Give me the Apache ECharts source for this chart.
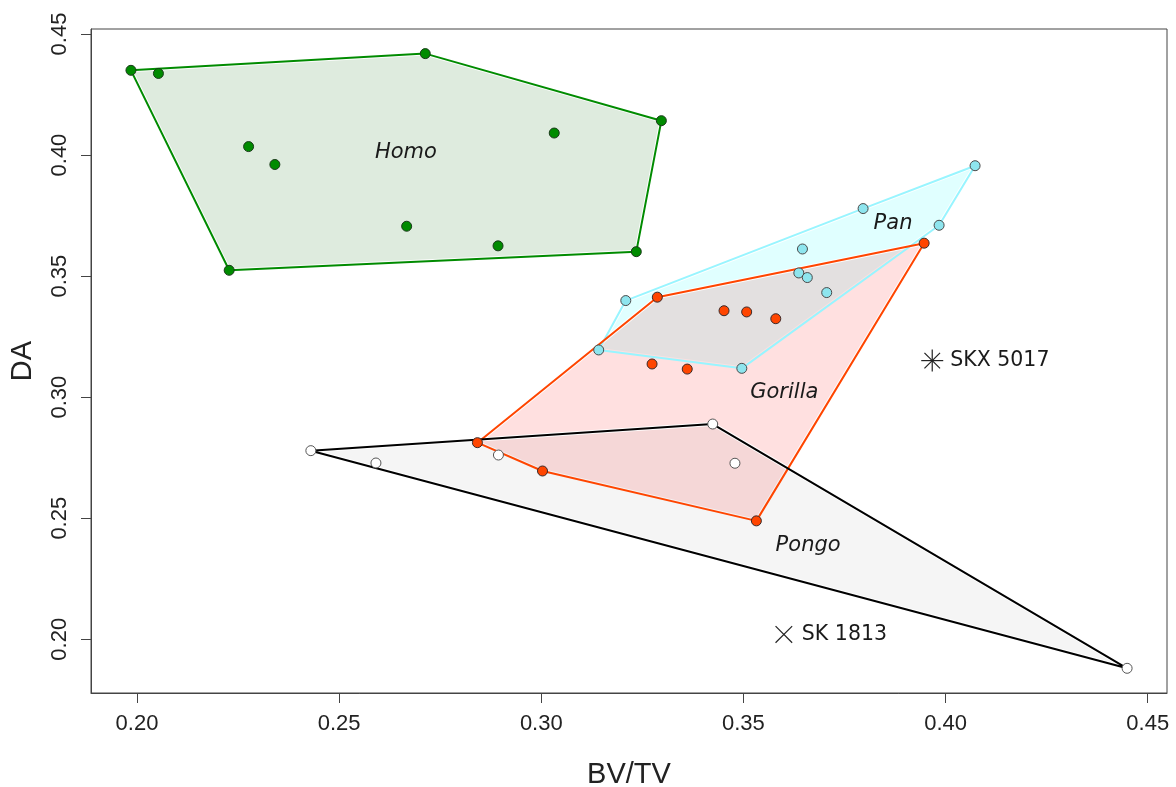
<!DOCTYPE html>
<html><head><meta charset="utf-8">
<script src="https://cdn.jsdelivr.net/npm/echarts@6/dist/echarts.min.js"></script>
<style>html,body{margin:0;padding:0;background:#fff}#c{width:1176px;height:787px}</style>
</head><body><div id="c"></div>
<script>
// ---- data ----
const xTicks = [0.20, 0.25, 0.30, 0.35, 0.40, 0.45];
const yTicks = [0.20, 0.25, 0.30, 0.35, 0.40, 0.45];
const homo = [[0.1985,0.4350],[0.2053,0.4337],[0.2276,0.4035],[0.2341,0.3961],[0.2228,0.3524],[0.2713,0.4419],[0.3297,0.4142],[0.3032,0.4091],[0.2667,0.3706],[0.2893,0.3625],[0.3235,0.3601]];
const pan = [[0.4073,0.3956],[0.3796,0.3779],[0.3984,0.3710],[0.3646,0.3612],[0.3637,0.3513],[0.3658,0.3494],[0.3706,0.3432],[0.3209,0.3399],[0.3142,0.3195],[0.3496,0.3119]];
const gorilla = [[0.3947,0.3636],[0.3287,0.3413],[0.3452,0.3357],[0.3508,0.3352],[0.3580,0.3324],[0.3274,0.3137],[0.3361,0.3116],[0.2842,0.2812],[0.3003,0.2695],[0.3532,0.2489]];
const pongo = [[0.2430,0.2779],[0.2591,0.2728],[0.2894,0.2761],[0.3424,0.2889],[0.3479,0.2727],[0.4449,0.1880]];
const speciesNames = ['Homo', 'Pan', 'Gorilla', 'Pongo'];
const speciesLabelPos = [[0.2665,0.4009],[0.3870,0.3719],[0.3601,0.3017],[0.3660,0.2389]];
const specimens = [[0.3967,0.3151],[0.3600,0.2020]];
const specimenNames = ['SKX 5017', 'SK 1813'];
const specimenSymbols = ['asterisk', 'cross'];

// ---- helpers ----
function hull(pts) {
  const p = pts.slice().sort((a, b) => a[0] - b[0] || a[1] - b[1]);
  const cross = (o, a, b) => (a[0]-o[0])*(b[1]-o[1]) - (a[1]-o[1])*(b[0]-o[0]);
  const lower = [];
  for (const q of p) { while (lower.length >= 2 && cross(lower[lower.length-2], lower[lower.length-1], q) <= 0) lower.pop(); lower.push(q); }
  const upper = [];
  for (let i = p.length - 1; i >= 0; i--) { const q = p[i]; while (upper.length >= 2 && cross(upper[upper.length-2], upper[upper.length-1], q) <= 0) upper.pop(); upper.push(q); }
  upper.pop(); lower.pop();
  return lower.concat(upper);
}
function fillSeries(pts, fill, z) {
  const h = hull(pts);
  return {
    type: 'custom', coordinateSystem: 'cartesian2d', silent: true, z: z,
    data: [h[0]],
    renderItem: (params, api) => ({
      type: 'polygon', shape: { points: h.map(p => api.coord(p)) },
      style: { fill: fill, stroke: 'rgba(255,255,255,0.9)', lineWidth: 4, lineJoin: 'round' }
    })
  };
}
function outlineSeries(pts, stroke, z) {
  const h = hull(pts);
  return {
    type: 'custom', coordinateSystem: 'cartesian2d', silent: true, z: z,
    data: [h[0]],
    renderItem: (params, api) => ({
      type: 'polygon', shape: { points: h.map(p => api.coord(p)) },
      style: { fill: 'none', stroke: stroke, lineWidth: 2, lineJoin: 'round' }
    })
  };
}
function pointSeries(pts, color, border, z) {
  return {
    type: 'scatter', data: pts, symbol: 'circle', symbolSize: 10, silent: true, z: z,
    itemStyle: { color: color, borderColor: border, borderWidth: 1, opacity: 1 },
    emphasis: { disabled: true }
  };
}

const chart = echarts.init(document.getElementById('c'), null, { renderer: 'canvas' });
const FONT = 'Liberation Sans, Arial, sans-serif';
const option = {
  backgroundColor: '#ffffff',
  animation: false,
  grid: { left: 91, top: 29, width: 1076, height: 664, containLabel: false, outerBoundsMode: 'none', show: true, borderColor: '#444', borderWidth: 1, backgroundColor: 'transparent' },
  xAxis: {
    type: 'value', min: 0.18862, max: 0.45477,
    name: 'BV/TV', nameLocation: 'middle', nameGap: 67,
    nameTextStyle: { fontFamily: FONT, fontSize: 29, color: '#222' },
    splitLine: { show: false },
    axisLine: { show: true, lineStyle: { color: '#444', width: 1 } },
    axisTick: { show: true, length: 10, inside: false, customValues: xTicks, lineStyle: { color: '#444' } },
    axisLabel: { customValues: xTicks, formatter: v => v.toFixed(2), fontFamily: FONT, fontSize: 22, color: '#222', margin: 20 }
  },
  yAxis: {
    type: 'value', min: 0.1778, max: 0.45207,
    name: 'DA', nameLocation: 'middle', nameGap: 54, nameRotate: 90,
    nameTextStyle: { fontFamily: FONT, fontSize: 29, color: '#222' },
    splitLine: { show: false },
    axisLine: { show: true, lineStyle: { color: '#444', width: 1 } },
    axisTick: { show: true, length: 10, inside: false, customValues: yTicks, lineStyle: { color: '#444' } },
    axisLabel: { customValues: yTicks, formatter: v => v.toFixed(2), rotate: 90, fontFamily: FONT, fontSize: 22, color: '#222', margin: 20 }
  },
  series: [
    fillSeries(homo, 'rgba(0,100,0,0.13)', 1),
    fillSeries(pan, 'rgba(0,255,255,0.12)', 2),
    fillSeries(gorilla, 'rgba(255,0,0,0.12)', 3),
    fillSeries(pongo, 'rgba(0,0,0,0.04)', 4),
    outlineSeries(homo, '#008B00', 5),
    outlineSeries(pan, '#98F5FF', 6),
    outlineSeries(gorilla, '#FF4500', 7),
    outlineSeries(pongo, '#000000', 8),
    pointSeries(homo, '#008B00', '#1a3a1a', 10),
    pointSeries(pan, '#8EE5EE', '#4a4a4a', 10),
    pointSeries(gorilla, '#FF4500', '#3a2a2a', 10),
    pointSeries(pongo, '#ffffff', '#555555', 10),
    {
      type: 'custom', coordinateSystem: 'cartesian2d', silent: true, z: 20,
      data: speciesLabelPos,
      renderItem: (params, api) => {
        const c = api.coord([api.value(0), api.value(1)]);
        return { type: 'text', x: c[0], y: c[1], style: { text: speciesNames[params.dataIndex], fontFamily: 'DejaVu Sans', fontStyle: 'italic', fontSize: 21, fill: '#1a1a1a', align: 'center', verticalAlign: 'middle' } };
      }
    },
    {
      type: 'custom', coordinateSystem: 'cartesian2d', silent: true, z: 20,
      data: specimens,
      renderItem: (params, api) => {
        const c = api.coord([api.value(0), api.value(1)]);
        const i = params.dataIndex;
        const ls = { stroke: '#222', lineWidth: 1.2 };
        const segs = [];
        if (specimenSymbols[i] === 'asterisk') {
          const r = 11, d = 7.8;
          segs.push([-r,0,r,0],[0,-r,0,r],[-d,-d,d,d],[-d,d,d,-d]);
        } else {
          const d = 8.3;
          segs.push([-d,-d,d,d],[-d,d,d,-d]);
        }
        const children = segs.map(s => ({ type: 'line', shape: { x1: c[0]+s[0], y1: c[1]+s[1], x2: c[0]+s[2], y2: c[1]+s[3] }, style: ls }));
        children.push({ type: 'text', x: c[0] + 18, y: c[1], style: { text: specimenNames[i], fontFamily: 'DejaVu Sans', fontSize: 20.5, fill: '#1a1a1a', align: 'left', verticalAlign: 'middle' } });
        return { type: 'group', children: children };
      }
    }
  ]
};
chart.setOption(option);
</script></body></html>
